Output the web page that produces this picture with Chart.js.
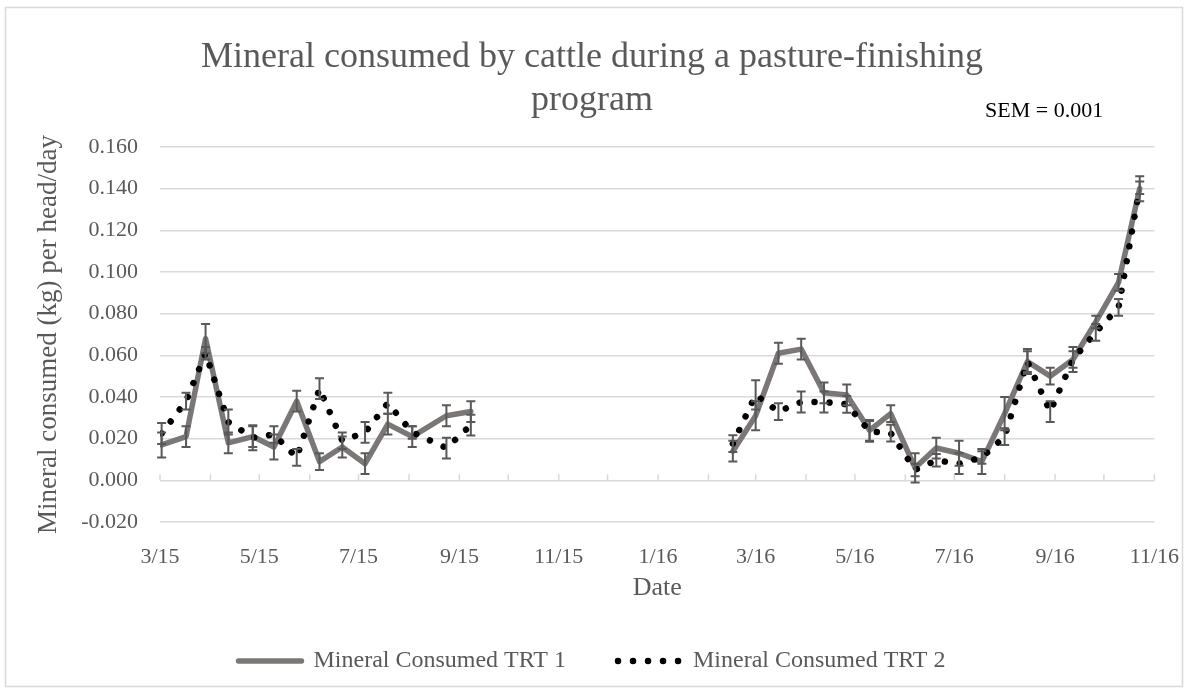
<!DOCTYPE html>
<html>
<head>
<meta charset="utf-8">
<script src="https://cdn.jsdelivr.net/npm/chart.js@4.4.1/dist/chart.umd.min.js"></script>
<style>
    html, body { margin: 0; padding: 0; background: #fff; }
</style>
</head>
<body>
<canvas id="grafico" width="1193" height="691"></canvas>
<script>
// Datos (null = hueco entre temporadas)
const fechas = [
    "2015-03-02", "2015-03-17", "2015-03-29", "2015-04-12", "2015-04-27", "2015-05-10", "2015-05-24",
    "2015-06-07", "2015-06-21", "2015-07-05", "2015-07-19", "2015-08-03", "2015-08-24", "2015-09-08",
    "2015-12-01",
    "2016-02-16", "2016-03-01", "2016-03-15", "2016-03-29", "2016-04-12", "2016-04-26", "2016-05-10",
    "2016-05-23", "2016-06-07", "2016-06-20", "2016-07-04", "2016-07-18", "2016-08-01", "2016-08-15",
    "2016-08-29", "2016-09-12", "2016-09-26", "2016-10-10", "2016-10-23"
];

const trt1 = [
    0.017, 0.021, 0.068, 0.018, 0.021, 0.016, 0.038, 0.009, 0.016, 0.008, 0.027, 0.021, 0.031, 0.033,
    null,
    0.014, 0.031, 0.061, 0.063, 0.042, 0.041, 0.024, 0.032, 0.006, 0.0155, 0.013, 0.009, 0.032, 0.057,
    0.050, 0.058, 0.076, 0.095, 0.140
];

const trt2 = [
    0.0225, 0.038, 0.061, 0.028, 0.0205, 0.022, 0.011, 0.044, 0.019, 0.023, 0.037, 0.023, 0.0155, 0.0265,
    null,
    0.0176, 0.041, 0.033, 0.0376, 0.0376, 0.0365, 0.0235, 0.0227, 0.005, 0.0096, 0.008, 0.011, 0.021, 0.057,
    0.033, 0.058, 0.071, 0.083, 0.1405
];

const errTrt1 = [
    0.006, 0.005, 0.007, 0.005, 0.005, 0.006, 0.005, 0.004, 0.005, 0.005, 0.005, 0.005, 0.005, 0.005,
    null,
    0.005, 0.007, 0.005, 0.005, 0.005, 0.005, 0.005, 0.004, 0.007, 0.005, 0.006, 0.006, 0.008, 0.006,
    0.004, 0.006, 0.003, 0.004, 0.006
];

const errTrt2 = [
    0.005, 0.004, 0.003, 0.006, 0.006, 0.004, 0.004, 0.005, 0.004, 0.005, 0.005, 0.003, 0.005, 0.005,
    null,
    0.004, 0.007, 0.004, 0.005, 0.005, 0.004, 0.005, 0.004, 0.003, 0.003, 0.005, 0.003, 0.004, 0.005,
    0.005, 0.004, 0.004, 0.004, 0.003
];

// Etiquetas del eje X (cada dos meses)
const fechasEtiqueta = [
    "2015-03-01", "2015-05-01", "2015-07-01", "2015-09-01", "2015-11-01", "2016-01-01",
    "2016-03-01", "2016-05-01", "2016-07-01", "2016-09-01", "2016-11-01"
];
const etiquetasX = ["3/15", "5/15", "7/15", "9/15", "11/15", "1/16", "3/16", "5/16", "7/16", "9/16", "11/16"];

const FUENTE = "'Liberation Serif', 'Times New Roman', serif";
const GRIS_TEXTO = "#595959";

function dia(s) {
    return Date.UTC(+s.slice(0, 4), +s.slice(5, 7) - 1, +s.slice(8, 10)) / 86400000;
}

function puntos(valores) {
    return fechas.map((f, i) => ({ x: dia(f), y: valores[i] }));
}

// Marcas mensuales sobre la linea del cero
const marcasMes = [];
for (let m = 0; m <= 20; m++) {
    marcasMes.push(Date.UTC(2015, 2 + m, 1) / 86400000);
}

const pluginFondo = {
    id: "fondo",
    beforeDraw(chart) {
        const ctx = chart.ctx;
        ctx.save();
        ctx.fillStyle = "#fff";
        ctx.fillRect(0, 0, chart.width, chart.height);
        ctx.strokeStyle = "#d9d9d9";
        ctx.lineWidth = 1.5;
        ctx.strokeRect(5.5, 7.5, 1177, 679);
        ctx.restore();
    },
    beforeDatasetsDraw(chart) {
        const ctx = chart.ctx;
        const xs = chart.scales.x, ys = chart.scales.y;
        const y0 = ys.getPixelForValue(0);
        ctx.save();
        ctx.strokeStyle = "#d9d9d9";
        ctx.lineWidth = 1.5;
        ctx.beginPath();
        marcasMes.forEach(d => {
            const x = xs.getPixelForValue(d);
            ctx.moveTo(x, y0);
            ctx.lineTo(x, y0 - 6);
        });
        ctx.stroke();
        ctx.restore();
    },
    afterDatasetsDraw(chart) {
        const ctx = chart.ctx;
        const xs = chart.scales.x, ys = chart.scales.y;
        ctx.save();
        ctx.strokeStyle = "#595959";
        ctx.lineWidth = 2;
        chart.data.datasets.forEach(ds => {
            ds.data.forEach((p, j) => {
                const e = ds.errores[j];
                if (p.y === null || e === null) return;
                const x = xs.getPixelForValue(p.x);
                const yt = ys.getPixelForValue(p.y + e);
                const yb = ys.getPixelForValue(p.y - e);
                ctx.beginPath();
                ctx.moveTo(x, yt); ctx.lineTo(x, yb);
                ctx.moveTo(x - 4.5, yt); ctx.lineTo(x + 4.5, yt);
                ctx.moveTo(x - 4.5, yb); ctx.lineTo(x + 4.5, yb);
                ctx.stroke();
            });
        });
        ctx.restore();
    },
    afterDraw(chart) {
        const ctx = chart.ctx;
        ctx.save();
        ctx.font = "22px " + FUENTE;
        ctx.fillStyle = "#000";
        ctx.textBaseline = "middle";
        ctx.fillText("SEM = 0.001", 985, 111);
        ctx.restore();
    }
};

// Leyenda con el mismo trazo que cada serie
function etiquetasLeyenda(chart) {
    return Chart.defaults.plugins.legend.labels.generateLabels(chart).map(item => {
        const ds = chart.data.datasets[item.datasetIndex];
        item.pointStyle = "line";
        item.strokeStyle = ds.borderColor;
        item.fillStyle = ds.borderColor;
        item.lineWidth = ds.borderWidth;
        item.lineDash = ds.borderDash || [];
        item.lineDashOffset = 0;
        item.lineCap = "round";
        return item;
    });
}

new Chart(document.getElementById("grafico"), {
    type: "line",
    data: {
        datasets: [
            {
                label: "Mineral Consumed TRT 1",
                data: puntos(trt1),
                errores: errTrt1,
                borderColor: "#7b7777",
                backgroundColor: "#7b7777",
                borderWidth: 5.5,
                borderCapStyle: "round",
                borderJoinStyle: "round",
                pointRadius: 0,
                tension: 0,
                spanGaps: false,
                order: 1
            },
            {
                label: "Mineral Consumed TRT 2",
                data: puntos(trt2),
                errores: errTrt2,
                borderColor: "#000",
                backgroundColor: "#000",
                borderWidth: 6.5,
                borderDash: [0.01, 15],
                borderCapStyle: "round",
                borderJoinStyle: "round",
                pointRadius: 0,
                tension: 0,
                spanGaps: false,
                order: 0
            }
        ]
    },
    options: {
        responsive: false,
        animation: false,
        layout: { padding: { left: 29, right: 38, top: 8, bottom: 8 } },
        plugins: {
            title: {
                display: true,
                text: ["Mineral consumed by cattle during a pasture-finishing", "program"],
                color: GRIS_TEXTO,
                font: { family: FUENTE, size: 36, weight: "normal", lineHeight: 43 / 36 },
                padding: { top: 28, bottom: 25 }
            },
            legend: {
                position: "bottom",
                labels: {
                    usePointStyle: true,
                    pointStyleWidth: 63,
                    color: GRIS_TEXTO,
                    font: { family: FUENTE, size: 24 },
                    padding: 52,
                    sort: (a, b) => a.datasetIndex - b.datasetIndex,
                    generateLabels: etiquetasLeyenda
                }
            },
            tooltip: { enabled: false }
        },
        scales: {
            x: {
                type: "linear",
                min: dia("2015-03-01"),
                max: dia("2016-11-01"),
                grid: { display: false },
                border: { display: false },
                afterBuildTicks: s => { s.ticks = fechasEtiqueta.map(f => ({ value: dia(f) })); },
                afterFit: s => { s.height = 75; },
                ticks: {
                    autoSkip: false,
                    maxRotation: 0,
                    padding: 14,
                    color: GRIS_TEXTO,
                    font: { family: FUENTE, size: 22 },
                    callback: v => etiquetasX[fechasEtiqueta.findIndex(f => dia(f) === v)]
                },
                title: {
                    display: true,
                    text: "Date",
                    color: GRIS_TEXTO,
                    font: { family: FUENTE, size: 26, lineHeight: 1.2 },
                    padding: { top: 0, bottom: -7 }
                }
            },
            y: {
                min: -0.02,
                max: 0.16,
                grid: { color: "#d9d9d9", lineWidth: 1.5, drawTicks: false },
                border: { display: false },
                afterFit: s => { s.width = 131; },
                ticks: {
                    stepSize: 0.02,
                    padding: 22,
                    color: GRIS_TEXTO,
                    font: { family: FUENTE, size: 22 },
                    callback: v => (Math.abs(v) < 1e-9 ? 0 : v).toFixed(3)
                },
                title: {
                    display: true,
                    text: "Mineral consumed (kg) per head/day",
                    color: GRIS_TEXTO,
                    font: { family: FUENTE, size: 27, lineHeight: 1.2 },
                    padding: { top: 4, bottom: 0 }
                }
            }
        }
    },
    plugins: [pluginFondo]
});
</script>
</body>
</html>
